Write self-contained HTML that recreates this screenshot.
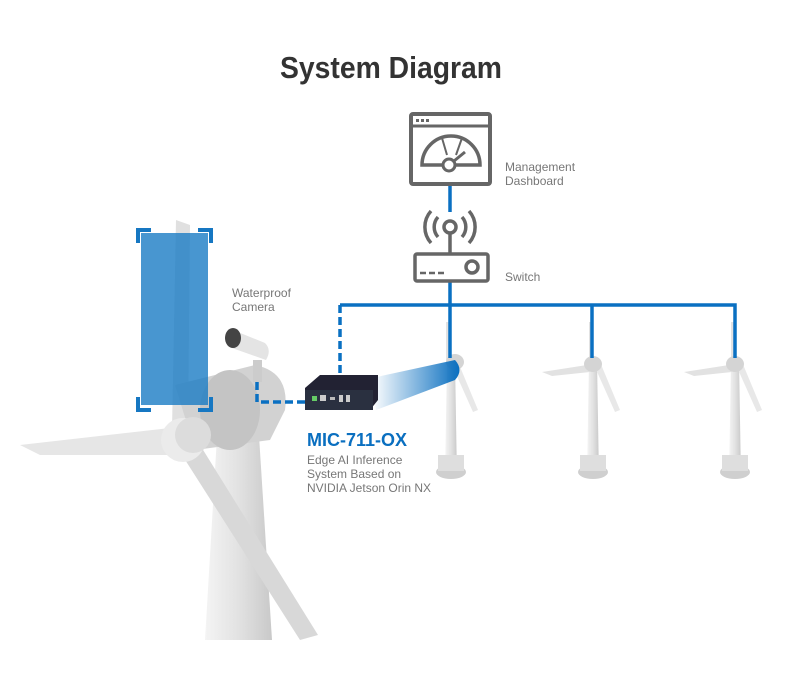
<!DOCTYPE html>
<html><head><meta charset="utf-8"><style>
body{margin:0;background:#fff;}
svg{display:block;font-family:"Liberation Sans",Arial,sans-serif;}
</style></head><body>
<svg width="802" height="683" viewBox="0 0 802 683" xmlns="http://www.w3.org/2000/svg">
<defs>
<linearGradient id="tw" x1="0" x2="1"><stop offset="0" stop-color="#f4f4f4"/><stop offset="0.5" stop-color="#e2e2e2"/><stop offset="1" stop-color="#c9c9c9"/></linearGradient>
<linearGradient id="beam" x1="1" x2="0"><stop offset="0" stop-color="#0a6fc0"/><stop offset="1" stop-color="#0a6fc0" stop-opacity="0"/></linearGradient>
</defs>
<text x="391" y="78" text-anchor="middle" font-size="31" font-weight="bold" fill="#333" textLength="222" lengthAdjust="spacingAndGlyphs">System Diagram</text>

<!-- big turbine -->
<polygon points="205,640 272,640 258,420 218,420" fill="url(#tw)"/>
<polygon points="176,220 190,225 188,430 172,430" fill="#e0e0e0"/>
<polygon points="20,445 170,428 178,455 40,455" fill="#e6e6e6"/>
<polygon points="182,455 200,445 318,635 300,640" fill="#d8d8d8"/>
<path d="M175,385 L255,365 Q290,372 285,410 L270,440 L195,450 Z" fill="#d2d2d2"/>
<ellipse cx="230" cy="410" rx="30" ry="40" fill="#c4c4c4"/>
<circle cx="183" cy="440" r="22" fill="#ebebeb"/>
<circle cx="193" cy="435" r="18" fill="#dcdcdc"/>

<!-- blue frame -->
<rect x="141" y="233" width="67" height="172" fill="#1a7cc4" fill-opacity="0.8"/>
<g stroke="#1677c2" stroke-width="4" fill="none">
<path d="M138,243 V230 H151"/><path d="M198,230 H211 V243"/>
<path d="M138,397 V410 H151"/><path d="M198,410 H211 V397"/>
</g>

<!-- camera -->
<rect x="253" y="360" width="9" height="22" fill="#ccc"/>
<path d="M233,330 L265,343 Q272,350 266,360 L232,348 Z" fill="#e4e4e4"/>
<ellipse cx="233" cy="338" rx="8" ry="10" fill="#444"/>

<!-- small turbines -->
<g>
<polygon points="445,478 457,478 455,360 447,360" fill="url(#tw)"/>
<ellipse cx="451" cy="472" rx="15" ry="7" fill="#cfcfcf"/>
<rect x="438" y="455" width="26" height="16" fill="#dedede"/>
<polygon points="446,322 450,322 451,360 446,360" fill="#e2e2e2"/>
<polygon points="452,365 458,362 478,410 473,412" fill="#e8e8e8"/>
<ellipse cx="455" cy="362" rx="9" ry="8" fill="#d4d4d4"/>
</g>
<g transform="translate(142,0)">
<polygon points="445,478 457,478 455,360 447,360" fill="url(#tw)"/>
<ellipse cx="451" cy="472" rx="15" ry="7" fill="#cfcfcf"/>
<rect x="438" y="455" width="26" height="16" fill="#dedede"/>
<polygon points="447,322 451,322 451,360 447,360" fill="#e2e2e2"/>
<polygon points="400,372 445,365 448,372 410,376" fill="#e2e2e2"/>
<polygon points="452,365 458,362 478,410 473,412" fill="#e8e8e8"/>
<ellipse cx="451" cy="364" rx="9" ry="8" fill="#d4d4d4"/>
</g>
<g transform="translate(284,0)">
<polygon points="445,478 457,478 455,360 447,360" fill="url(#tw)"/>
<ellipse cx="451" cy="472" rx="15" ry="7" fill="#cfcfcf"/>
<rect x="438" y="455" width="26" height="16" fill="#dedede"/>
<polygon points="447,322 451,322 451,360 447,360" fill="#e2e2e2"/>
<polygon points="400,372 445,365 448,372 410,376" fill="#e2e2e2"/>
<polygon points="452,365 458,362 478,410 473,412" fill="#e8e8e8"/>
<ellipse cx="451" cy="364" rx="9" ry="8" fill="#d4d4d4"/>
</g>

<!-- beam -->
<path d="M372,378 L455,360 Q464,370 455,380 L376,410 Z" fill="url(#beam)"/>

<!-- device -->
<polygon points="305,388 320,375 378,375 378,400 370,410 305,410" fill="#223"/>
<rect x="305" y="390" width="68" height="20" fill="#2a3040"/>
<rect x="312" y="396" width="5" height="5" fill="#6c6"/><rect x="320" y="395" width="6" height="6" fill="#ccc"/><rect x="330" y="397" width="5" height="3" fill="#bbb"/><rect x="339" y="395" width="4" height="7" fill="#ccc"/><rect x="346" y="395" width="4" height="7" fill="#ccc"/>

<!-- lines -->
<g stroke="#0a70c2" stroke-width="3.5" fill="none">
<path d="M450,185 V212"/>
<path d="M450,282 V358"/>
<path d="M340,305 H735 V358"/>
<path d="M592,305 V358"/>
<path d="M340,305 V375" stroke-dasharray="8,4"/>
<path d="M257,382 V402 H305" stroke-dasharray="8,4"/>
</g>

<!-- dashboard -->
<rect x="411" y="114" width="79" height="70" rx="2" fill="#fff" stroke="#666" stroke-width="4"/>
<line x1="413" y1="126" x2="488" y2="126" stroke="#666" stroke-width="3"/>
<g fill="#666"><rect x="416" y="119" width="3" height="3"/><rect x="421" y="119" width="3" height="3"/><rect x="426" y="119" width="3" height="3"/></g>
<path d="M422,165 A29,29 0 0 1 480,165 Z" fill="none" stroke="#666" stroke-width="3.5"/>
<circle cx="449" cy="165" r="6" fill="#fff" stroke="#666" stroke-width="3"/>
<path d="M454,161 L465,152" stroke="#666" stroke-width="3"/>
<path d="M442,138 L447,155 M462,138 L456,155" stroke="#666" stroke-width="2"/>

<!-- switch -->
<g stroke="#666" stroke-width="3.5" fill="none">
<circle cx="450" cy="227" r="6"/>
<line x1="450" y1="233" x2="450" y2="254"/>
<path d="M438,217 A15,15 0 0 0 438,237 M462,217 A15,15 0 0 1 462,237"/>
<path d="M431,211 A24,24 0 0 0 431,243 M469,211 A24,24 0 0 1 469,243"/>
<rect x="415" y="254" width="73" height="27" rx="2" fill="#fff"/>
<circle cx="472" cy="267" r="6"/>
<path d="M420,273 H426 M429,273 H435 M438,273 H444" stroke-width="2.5"/>
</g>

<!-- texts -->
<g fill="#777" font-size="12">
<text x="232" y="297">Waterproof</text><text x="232" y="311">Camera</text>
<text x="505" y="171">Management</text><text x="505" y="185">Dashboard</text>
<text x="505" y="281">Switch</text>
<text x="307" y="464">Edge AI Inference</text>
<text x="307" y="478">System Based on</text>
<text x="307" y="492">NVIDIA Jetson Orin NX</text>
</g>
<text x="307" y="446" font-size="18" font-weight="bold" fill="#0a6fc0">MIC-711-OX</text>
</svg>
</body></html>
